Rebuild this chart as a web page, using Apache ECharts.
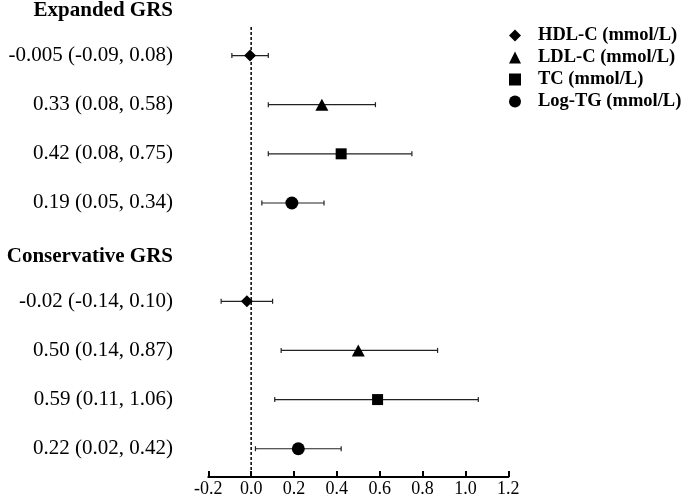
<!DOCTYPE html>
<html>
<head>
<meta charset="utf-8">
<script src="https://cdn.jsdelivr.net/npm/echarts@6/dist/echarts.min.js"></script>
<style>html,body{margin:0;padding:0;background:#fff}#c{width:685px;height:499px}</style>
</head>
<body>
<div id="c"></div>
<script>
// ---- data ----
const rowLabels = [
  'Expanded GRS',
  '-0.005 (-0.09, 0.08)',
  '0.33 (0.08, 0.58)',
  '0.42 (0.08, 0.75)',
  '0.19 (0.05, 0.34)',
  'Conservative GRS',
  '-0.02 (-0.14, 0.10)',
  '0.50 (0.14, 0.87)',
  '0.59 (0.11, 1.06)',
  '0.22 (0.02, 0.42)'
];
const headerRows = [0, 5];
const seriesNames = ['HDL-C (mmol/L)', 'LDL-C (mmol/L)', 'TC (mmol/L)', 'Log-TG (mmol/L)'];
const expandedRows = [1, 2, 3, 4];
const expandedEst = [-0.005, 0.33, 0.42, 0.19];
const expandedLo = [-0.09, 0.08, 0.08, 0.05];
const expandedHi = [0.08, 0.58, 0.75, 0.34];
const conservativeRows = [6, 7, 8, 9];
const conservativeEst = [-0.02, 0.50, 0.59, 0.22];
const conservativeLo = [-0.14, 0.14, 0.11, 0.02];
const conservativeHi = [0.10, 0.87, 1.06, 0.42];
const xTicks = { min: -0.2, max: 1.2, interval: 0.2 };

// ---- styles ----
const symbols = ['diamond', 'triangle', 'rect', 'circle'];
const symbolSizes = [12, [13, 12], 11, 13];
const FONT = '"Liberation Serif", "Times New Roman", serif';

const chart = echarts.init(document.getElementById('c'));

const series = [];
// reference dashed line at 0
series.push({
  type: 'custom',
  name: 'ref',
  silent: true,
  z: 1,
  encode: { x: 0, y: [1, 2] },
  data: [[0, 0, rowLabels.length - 1]],
  renderItem: function (params, api) {
    const band = api.size([0, 1])[1];
    const top = api.coord([api.value(0), api.value(1)]);
    const bot = api.coord([api.value(0), api.value(2)]);
    return {
      type: 'line',
      shape: { x1: top[0], y1: top[1] + 0.42 * band, x2: bot[0], y2: bot[1] + 0.58 * band },
      style: { stroke: '#000', lineWidth: 1.5, lineDash: [3, 2] }
    };
  }
});

// error bars
const errData = [];
for (let i = 0; i < 4; i++) {
  errData.push([expandedLo[i], expandedHi[i], expandedRows[i]]);
  errData.push([conservativeLo[i], conservativeHi[i], conservativeRows[i]]);
}
series.push({
  type: 'custom',
  name: 'ci',
  silent: true,
  z: 2,
  encode: { x: [0, 1], y: 2 },
  data: errData,
  renderItem: function (params, api) {
    const p1 = api.coord([api.value(0), api.value(2)]);
    const p2 = api.coord([api.value(1), api.value(2)]);
    const h = 2.5;
    const st = { stroke: '#222', lineWidth: 1.2 };
    return {
      type: 'group',
      children: [
        { type: 'line', shape: { x1: p1[0], y1: p1[1], x2: p2[0], y2: p2[1] }, style: st },
        { type: 'line', shape: { x1: p1[0], y1: p1[1] - h, x2: p1[0], y2: p1[1] + h }, style: st },
        { type: 'line', shape: { x1: p2[0], y1: p2[1] - h, x2: p2[0], y2: p2[1] + h }, style: st }
      ]
    };
  }
});

// point estimates
for (let i = 0; i < 4; i++) {
  series.push({
    type: 'scatter',
    name: seriesNames[i],
    symbol: symbols[i],
    symbolSize: symbolSizes[i],
    z: 5,
    itemStyle: { color: '#000', opacity: 1 },
    data: [[expandedEst[i], expandedRows[i]], [conservativeEst[i], conservativeRows[i]]]
  });
}

chart.setOption({
  animation: false,
  backgroundColor: '#fff',
  grid: { left: 208.3, right: 176.7, top: -18.2, bottom: 25.7, containLabel: false, outerBoundsMode: 'none' },
  legend: {
    data: seriesNames.map((n, i) => ({ name: n, icon: symbols[i] })),
    orient: 'vertical',
    left: 504,
    top: 21,
    itemWidth: 12,
    itemHeight: 12,
    itemGap: 3,
    selectedMode: false,
    textStyle: { fontFamily: FONT, fontWeight: 'bold', fontSize: 18.5, color: '#000', lineHeight: 18.7, padding: [0, 0, 0, 12] }
  },
  xAxis: {
    type: 'value',
    min: xTicks.min,
    max: xTicks.max,
    interval: xTicks.interval,
    offset: 3.7,
    axisLine: { show: true, lineStyle: { color: '#000', width: 2 } },
    axisTick: { show: true, inside: true, length: 6, lineStyle: { color: '#000', width: 2 } },
    splitLine: { show: false },
    axisLabel: {
      margin: 3,
      fontFamily: FONT,
      fontSize: 18,
      color: '#000',
      formatter: v => (Math.abs(v) < 1e-9 ? '0.0' : v.toFixed(1))
    }
  },
  yAxis: {
    type: 'category',
    inverse: true,
    data: rowLabels,
    axisLine: { show: false },
    axisTick: { show: false },
    splitLine: { show: false },
    axisLabel: {
      interval: 0,
      margin: 35.3,
      color: '#000',
      fontFamily: FONT,
      fontSize: 21,
      formatter: function (v, idx) {
        return headerRows.indexOf(idx) >= 0 ? '{h|' + v + '}' : '{n|' + v + '}';
      },
      rich: {
        h: { fontFamily: FONT, fontSize: 21, fontWeight: 'bold', color: '#000', padding: [8, 0, 0, 0] },
        n: { fontFamily: FONT, fontSize: 21, color: '#000' }
      }
    }
  },
  series: series
});
</script>
</body>
</html>
